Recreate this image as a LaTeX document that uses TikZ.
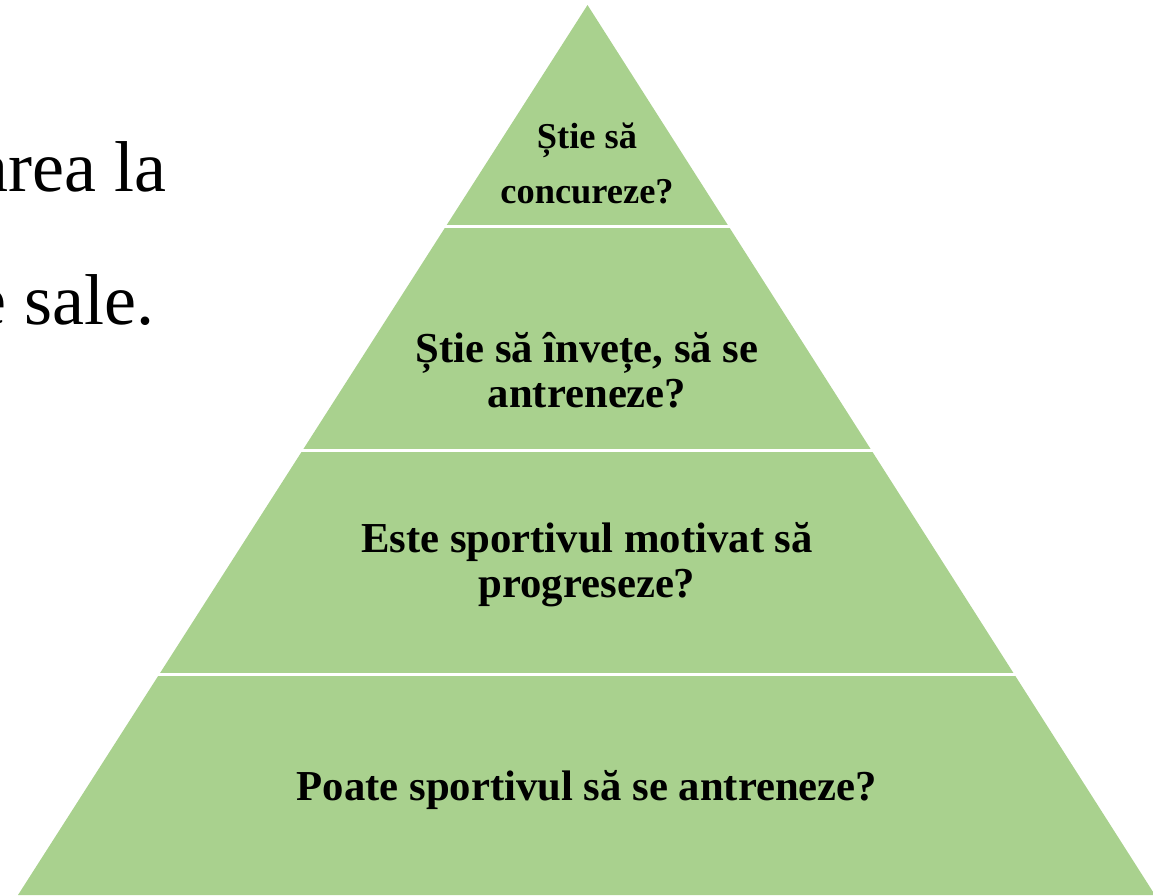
\documentclass[tikz,border=0pt]{standalone}
\usepackage{fontspec}
\setmainfont{Liberation Serif}
\definecolor{pyrgreen}{HTML}{A9D18E}
\begin{document}
\begin{tikzpicture}[x=1pt,y=-1pt,
  layertext/.style={inner sep=0pt,align=center,font=\fontsize{42.7}{45}\selectfont\bfseries,anchor=base},
  toptext/.style={inner sep=0pt,align=center,font=\fontsize{36.4}{55}\selectfont\bfseries,anchor=base},
  sidetext/.style={inner sep=0pt,font=\fontsize{72}{134}\selectfont,anchor=base east},
  sep/.style={draw=white,line width=3pt}]
\useasboundingbox (0,0) rectangle (1153,895);
\clip (0,0) rectangle (1153,895);
% pyramid
\coordinate (apex) at (587.5,5);
\coordinate (bl) at (18,895);
\coordinate (br) at (1155,895);
\fill[pyrgreen] (apex) -- (bl) -- (br) -- cycle;
\draw[sep] (380,226) -- (800,226);
\draw[sep] (250,450) -- (930,450);
\draw[sep] (100,674) -- (1080,674);
% texts
\node[toptext] (t1) at (587,203) {Știe să\\concureze?};
\node[layertext] (t2) at (587,407) {Știe să învețe, să se\\antreneze?};
\node[layertext] (t3) at (587,597) {Este sportivul motivat să\\progreseze?};
\node[layertext] (t4) at (587,800) {Poate sportivul să se antreneze?};
% cut-off side text
\node[sidetext] (s1) at (167,191) {area la};
\node[sidetext] (s2) at (155,324) {e sale.};
\end{tikzpicture}
\end{document}
